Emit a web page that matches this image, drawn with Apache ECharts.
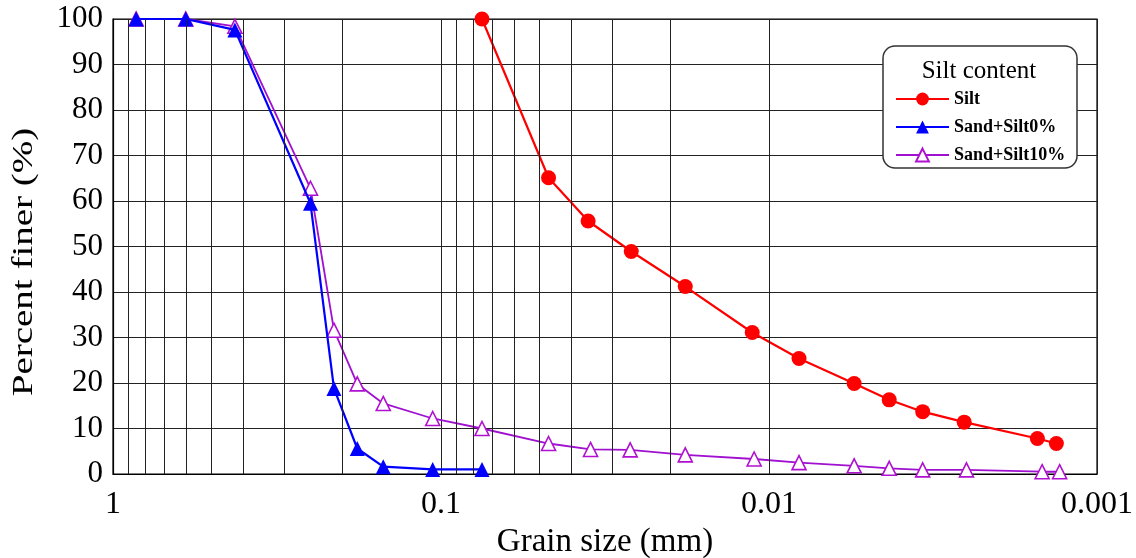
<!DOCTYPE html>
<html>
<head>
<meta charset="utf-8">
<script src="https://cdn.jsdelivr.net/npm/echarts@6/dist/echarts.min.js"></script>
<style>html,body{margin:0;padding:0;background:#fff}#c{width:1136px;height:558px}</style>
</head>
<body>
<div id="c"></div>
<script>
// ---- data (grain size in mm, percent finer in %) ----
const siltSize   = [0.075, 0.047, 0.0356, 0.0263, 0.018, 0.01125, 0.0081, 0.0055, 0.0043, 0.0034, 0.00254, 0.00152, 0.00133];
const siltPct    = [100, 65.1, 55.6, 48.9, 41.2, 31.1, 25.4, 19.9, 16.3, 13.7, 11.4, 7.8, 6.7];
const sand0Size  = [0.85, 0.6, 0.425, 0.25, 0.212, 0.18, 0.15, 0.106, 0.075];
const sand0Pct   = [100, 100, 97.6, 59.5, 18.8, 5.6, 1.6, 1.0, 1.0];
const sand10Size = [0.85, 0.6, 0.425, 0.25, 0.212, 0.18, 0.15, 0.106, 0.075, 0.047, 0.035, 0.0265, 0.018, 0.0111, 0.0081, 0.0055, 0.0043, 0.0034, 0.0025, 0.00147, 0.0013];
const sand10Pct  = [100, 100, 98.4, 62.8, 31.6, 19.8, 15.5, 12.2, 10.0, 6.7, 5.4, 5.3, 4.2, 3.3, 2.5, 1.8, 1.25, 0.9, 0.9, 0.5, 0.5];
const seriesNames = ['Silt', 'Sand+Silt0%', 'Sand+Silt10%'];
const legendTitle = 'Silt content';
const xTitle = 'Grain size (mm)';
const yTitle = 'Percent finer (%)';
const minorGrid = [0.9,0.8,0.7,0.6,0.5,0.4,0.3,0.2,0.09,0.08,0.07,0.06,0.05,0.04,0.03,0.02,0.009,0.008,0.007,0.006,0.005,0.004,0.003,0.002];

const zip = (a, b) => a.map((v, i) => [v, b[i]]);
const FONT = 'Liberation Serif';
const gridColor = '#222';

const chart = echarts.init(document.getElementById('c'), null, {renderer: 'canvas'});
chart.setOption({
  animation: false,
  backgroundColor: '#fff',
  grid: {left: 113, right: 39, top: 19, bottom: 84, outerBoundsMode: 'none', containLabel: false,
         show: true, borderColor: '#000', borderWidth: 1.2, backgroundColor: 'transparent'},
  xAxis: {
    type: 'log', logBase: 10, min: 0.001, max: 1, inverse: true,
    name: xTitle, nameLocation: 'middle', nameGap: 50,
    nameTextStyle: {fontFamily: FONT, fontSize: 33, color: '#000'},
    axisLine: {show: true, lineStyle: {color: '#000', width: 1.2}},
    axisTick: {show: false},
    axisLabel: {fontFamily: FONT, fontSize: 32, color: '#000', margin: 15,
      formatter: v => String(+v.toPrecision(3))},
    splitLine: {show: true, lineStyle: {color: gridColor, width: 1}}
  },
  yAxis: {
    type: 'value', min: 0, max: 100, interval: 10,
    axisLine: {show: true, lineStyle: {color: '#000', width: 1.2}},
    axisTick: {show: false},
    axisLabel: {fontFamily: FONT, fontSize: 31, color: '#000', margin: 10},
    splitLine: {show: true, lineStyle: {color: gridColor, width: 1}}
  },
  legend: {
    orient: 'vertical', left: 890, top: 85, itemWidth: 53, itemHeight: 16, itemGap: 10,
    data: seriesNames, z: 20, selectedMode: false,
    textStyle: {fontFamily: FONT, fontSize: 18, fontWeight: 'bold', color: '#000'}
  },
  graphic: [
    {type: 'rect', z: 10, shape: {x: 883, y: 46, width: 194, height: 122, r: 12},
     style: {fill: '#fff', stroke: '#333', lineWidth: 1.5}},
    {type: 'text', z: 21, x: 979, y: 71,
     style: {text: legendTitle, fontFamily: FONT, fontSize: 25, fill: '#000', align: 'center', verticalAlign: 'middle'}},
    {type: 'text', z: 21, x: 24, y: 262, rotation: Math.PI / 2, scaleX: 1.3,
     style: {text: yTitle, fontFamily: FONT, fontSize: 30, fill: '#000', align: 'center', verticalAlign: 'middle'}}
  ],
  series: [
    {
      name: 'grid-minor', type: 'line', data: [], silent: true,
      markLine: {silent: true, symbol: 'none', label: {show: false}, animation: false,
        lineStyle: {color: gridColor, width: 1, type: 'solid'},
        data: minorGrid.map(v => ({xAxis: v}))}
    },
    {
      name: seriesNames[0], type: 'line', z: 4, data: zip(siltSize, siltPct),
      symbol: 'circle', symbolSize: 15,
      lineStyle: {color: '#ff0000', width: 2.2}, itemStyle: {color: '#ff0000'}
    },
    {
      name: seriesNames[1], type: 'line', z: 3, data: zip(sand0Size, sand0Pct),
      symbol: 'triangle', symbolSize: 15,
      lineStyle: {color: '#0000ff', width: 2.2}, itemStyle: {color: '#0000ff'}
    },
    {
      name: seriesNames[2], type: 'line', z: 2, data: zip(sand10Size, sand10Pct),
      symbol: 'triangle', symbolSize: 14,
      lineStyle: {color: '#a010d0', width: 1.8},
      itemStyle: {color: '#ffffff', borderColor: '#b010d0', borderWidth: 1.6}
    }
  ]
});
</script>
</body>
</html>
